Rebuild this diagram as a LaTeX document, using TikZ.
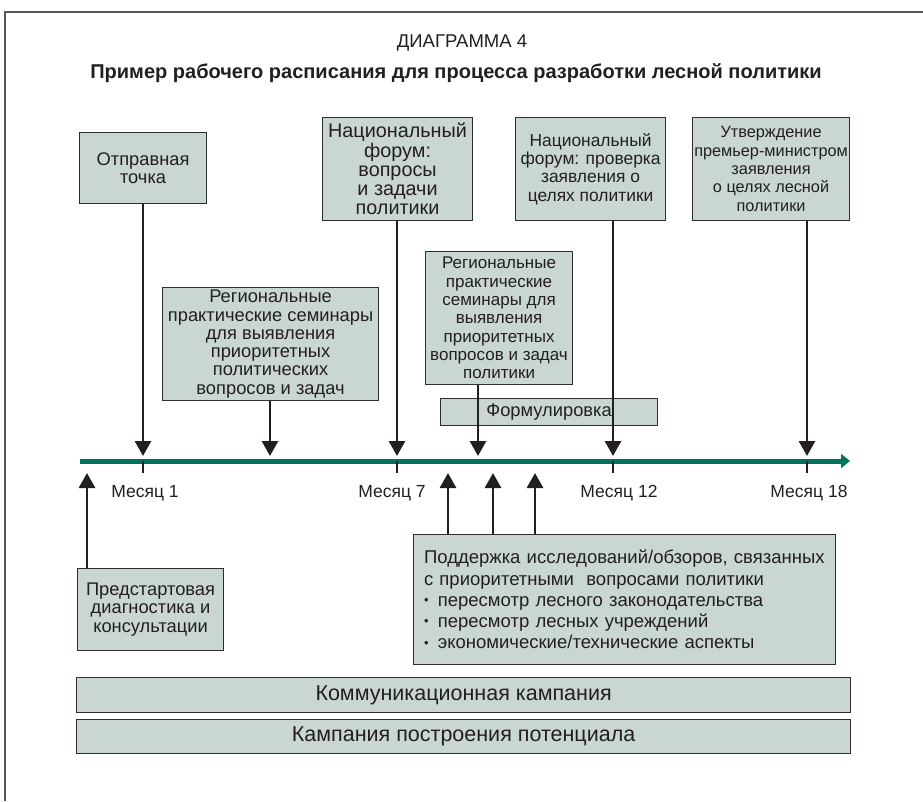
\documentclass[tikz,border=0pt]{standalone}
\usepackage{fontspec}
\setmainfont{Liberation Sans}
\usetikzlibrary{arrows.meta}
\definecolor{boxfill}{HTML}{C9D6D1}
\definecolor{boxline}{HTML}{2E2E2E}
\definecolor{axiscol}{HTML}{00735F}
\definecolor{arrcol}{HTML}{231F20}
\definecolor{framecol}{HTML}{555555}
\definecolor{txtcol}{HTML}{231F20}
\tikzset{
  box/.style={draw=boxline, fill=boxfill, line width=1.1pt, inner sep=1pt,
    anchor=north west, align=center, text=txtcol,
    font=\fontsize{18.3}{18.3}\selectfont},
  fs/.style={font=\fontsize{#1}{18.3}\selectfont},
  wide/.style={box, font=\fontsize{18.5}{21.2}\selectfont},
  bar/.style={box, font=\fontsize{21.5}{24}\selectfont},
  arr/.style={draw=arrcol, line width=2.8pt, -{Triangle[length=15pt,width=16pt]}},
  axisline/.style={draw=axiscol, line width=5pt, -{Triangle[length=9pt,width=14pt]}},
  tickline/.style={draw=arrcol, line width=2.2pt},
  monthlbl/.style={anchor=base, text=txtcol, font=\fontsize{17.5}{20}\selectfont},
  framelines/.style={draw=framecol, line width=1.2pt}
}
\newcommand{\bul}{{\fontsize{13}{13}\selectfont\raisebox{0.12em}{\textbullet}}\enspace}
\begin{document}
\begin{tikzpicture}[x=1pt,y=-1pt]
\useasboundingbox (0,0) rectangle (923,801);
\fill[white] (0,0) rectangle (923,801);
% frame
\coordinate (fbl) at (5,801);
\coordinate (ftl) at (5,12);
\coordinate (ftr) at (923,12);
\draw[framelines] (fbl) -- (ftl) -- (ftr);
% titles
\node[anchor=base, text=txtcol, font=\fontsize{18.5}{20}\selectfont] (t1) at (462,47) {ДИАГРАММА 4};
\node[anchor=base, text=txtcol, font=\fontsize{20}{22}\bfseries] (t2) at (456,78) {Пример рабочего расписания для процесса разработки лесной политики};
% upper boxes
\node[box, minimum width=127pt, minimum height=71pt] (otp) at (79,132) {Отправная\\точка};
\node[box, font=\fontsize{19.8}{19.2}\selectfont, minimum width=150pt, minimum height=103pt] (nf1) at (322,117) {Национальный\\форум:\\вопросы\\и задачи\\политики};
\node[box, fs=17.4, minimum width=150pt, minimum height=103pt] (nf2) at (515,117) {Национальный\\форум: проверка\\заявления о\\целях политики};
\node[box, fs=16.3, minimum width=157pt, minimum height=103pt] (utv) at (692,117) {Утверждение\\премьер-министром\\заявления\\о целях лесной\\политики};
\node[box, minimum width=216pt, minimum height=113pt] (reg1) at (162,287) {Региональные\\практические семинары\\для выявления\\приоритетных\\политических\\вопросов и задач};
\node[box, fs=17, minimum width=147pt, minimum height=133pt] (reg2) at (425,251) {Региональные\\практические\\семинары для\\выявления\\приоритетных\\вопросов и задач\\политики};
\node[box, minimum width=217pt, minimum height=27pt] (form) at (440,398) {Формулировка};
% lower boxes
\node[box, minimum width=146pt, minimum height=82pt] (pre) at (77,568) {Предстартовая\\диагностика и\\консультации};
\node[wide, align=left, text width=401pt, inner xsep=10.5pt, minimum height=130pt] (sup) at (413,534)
  {Поддержка исследований/обзоров, связанных\\
   с приоритетными\ \ вопросами политики\\
   \bul пересмотр лесного законодательства\\
   \bul пересмотр лесных учреждений\\
   \bul экономические/технические аспекты};
\node[bar, minimum width=774pt, minimum height=35pt] (comm) at (76,677) {Коммуникационная кампания};
\node[bar, minimum width=774pt, minimum height=34pt] (cap) at (76,719) {Кампания построения потенциала};
% axis
\coordinate (ax0) at (80,461);
\coordinate (ax1) at (850,461);
\draw[axisline] (ax0) -- (ax1);
% arrow targets on the axis
\coordinate (m1) at (143,456);
\coordinate (r1) at (270,456);
\coordinate (m7) at (397,456);
\coordinate (r2) at (478,456);
\coordinate (m12) at (613,456);
\coordinate (m18) at (807,456);
\coordinate (u0) at (87,473);
\coordinate (s1) at (448,473);
\coordinate (s2) at (493,473);
\coordinate (s3) at (535,473);
% ticks
\foreach \m in {m1,m7,m12,m18}{\draw[tickline] (\m |- ax0) -- ++(0,12);}
% down arrows
\draw[arr] (otp.south -| m1) -- (m1);
\draw[arr] (reg1.south -| r1) -- (r1);
\draw[arr] (nf1.south -| m7) -- (m7);
\draw[arr] (reg2.south -| r2) -- (r2);
\draw[arr] (nf2.south -| m12) -- (m12);
\draw[arr] (utv.south -| m18) -- (m18);
% up arrows
\draw[arr] (pre.north -| u0) -- (u0);
\draw[arr] (sup.north -| s1) -- (s1);
\draw[arr] (sup.north -| s2) -- (s2);
\draw[arr] (sup.north -| s3) -- (s3);
% month labels
\node[monthlbl] (l1) at (145,497) {Месяц 1};
\node[monthlbl] (l7) at (392,497) {Месяц 7};
\node[monthlbl] (l12) at (619,497) {Месяц 12};
\node[monthlbl] (l18) at (809,497) {Месяц 18};
\end{tikzpicture}
\end{document}
